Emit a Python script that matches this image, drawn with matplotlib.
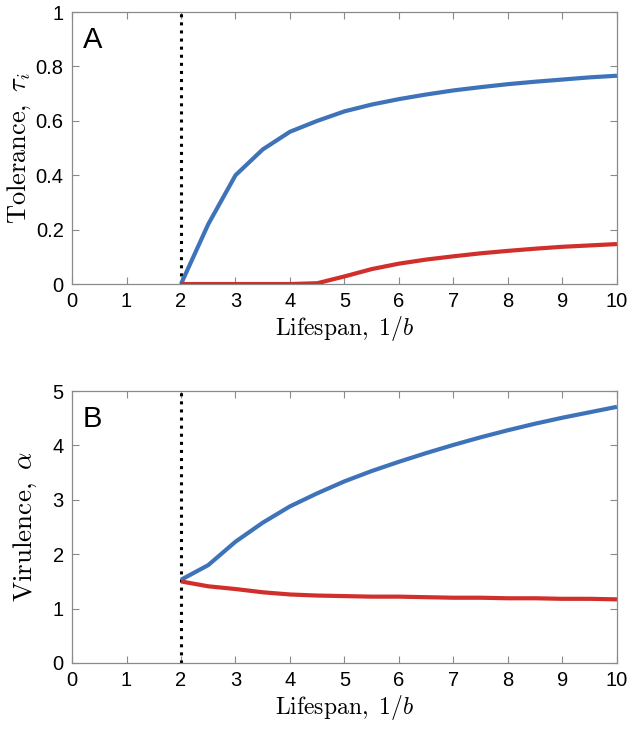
import matplotlib
matplotlib.use("Agg")
import matplotlib.pyplot as plt
import numpy as np

plt.rcParams['mathtext.fontset'] = 'cm'
plt.rcParams['font.family'] = ['Liberation Sans', 'DejaVu Sans']

lifespan = [2, 2.5, 3, 3.5, 4, 4.5, 5, 5.5, 6, 6.5, 7, 7.5, 8, 8.5, 9, 9.5, 10]
tol_blue = [0.0, 0.22, 0.40, 0.495, 0.56, 0.60, 0.635, 0.66, 0.68, 0.697, 0.712,
            0.724, 0.735, 0.744, 0.752, 0.760, 0.766]
tol_red = [0.0, 0.0, 0.0, 0.0, 0.0, 0.003, 0.028, 0.055, 0.075, 0.090, 0.102,
           0.113, 0.122, 0.130, 0.137, 0.142, 0.147]
vir_blue = [1.53, 1.80, 2.23, 2.58, 2.88, 3.12, 3.34, 3.53, 3.70, 3.86, 4.01,
            4.15, 4.28, 4.40, 4.51, 4.61, 4.71]
vir_red = [1.50, 1.41, 1.36, 1.30, 1.26, 1.24, 1.23, 1.22, 1.22, 1.21, 1.20,
           1.20, 1.19, 1.19, 1.18, 1.18, 1.17]
threshold = 2
xticks = list(range(0, 11))
yticks_a = [0, 0.2, 0.4, 0.6, 0.8, 1]
yticks_a_labels = ['0', '0.2', '0.4', '0.6', '0.8', '1']
yticks_b = [0, 1, 2, 3, 4, 5]

BLUE = '#3f73b9'
RED = '#d12f2b'
SPINE = '#8a8a8a'

fig = plt.figure(figsize=(6.3, 7.33), dpi=100)
axA = fig.add_axes([0.1143, 0.6125, 0.865, 0.371])
axB = fig.add_axes([0.1143, 0.0955, 0.865, 0.371])

def style(ax):
    for s in ax.spines.values():
        s.set_color(SPINE)
        s.set_linewidth(0.9)
    ax.tick_params(direction='in', top=True, right=True, length=5, width=0.8,
                   color=SPINE, labelsize=14.5, pad=6)
    ax.set_xlim(0, 10)
    ax.set_xticks(xticks)
    ax.set_xlabel(r'$\mathrm{Lifespan,}\ 1/b$', fontsize=17, labelpad=2)

axA.plot(lifespan, tol_blue, color=BLUE, lw=3.0, solid_capstyle='butt', zorder=3)
axA.plot(lifespan, tol_red, color=RED, lw=3.0, solid_capstyle='butt', zorder=3)
axA.axvline(threshold, color='black', ls=':', lw=2.2, zorder=2)
axA.set_ylim(0, 1)
axA.set_yticks(yticks_a)
axA.set_yticklabels(yticks_a_labels)
style(axA)
axA.set_ylabel(r'$\mathrm{Tolerance,}\ \tau_i$', fontsize=19, labelpad=2)
axA.text(0.02, 0.95, 'A', transform=axA.transAxes, fontsize=21, va='top', ha='left')

axB.plot(lifespan, vir_blue, color=BLUE, lw=3.0, solid_capstyle='butt', zorder=3)
axB.plot(lifespan, vir_red, color=RED, lw=3.0, solid_capstyle='butt', zorder=3)
axB.axvline(threshold, color='black', ls=':', lw=2.2, zorder=2)
axB.set_ylim(0, 5)
axB.set_yticks(yticks_b)
style(axB)
axB.set_ylabel(r'$\mathrm{Virulence,}\ \alpha$', fontsize=19.5, labelpad=10)
axB.text(0.02, 0.95, 'B', transform=axB.transAxes, fontsize=21, va='top', ha='left')

fig.savefig('out.png', dpi=100)
